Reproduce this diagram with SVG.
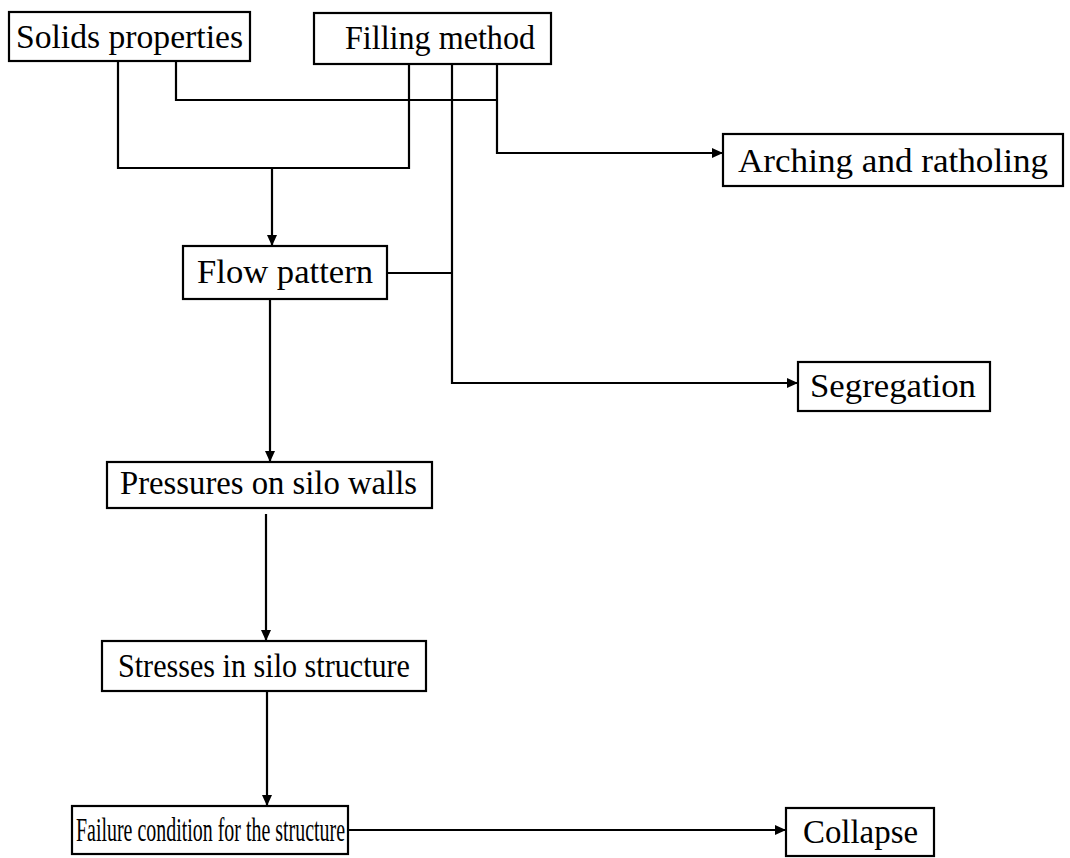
<svg xmlns="http://www.w3.org/2000/svg" width="1070" height="858" viewBox="0 0 1070 858">
<style>
.box{fill:#fff;stroke:#000;stroke-width:2.2}
.lbl{font-family:"Liberation Serif","Times New Roman",serif;font-size:33px;fill:#000}
.c{fill:none;stroke:#000;stroke-width:2.2}
</style>
<defs>
<marker id="arr" markerUnits="userSpaceOnUse" markerWidth="12" markerHeight="10" refX="11" refY="5" orient="auto">
<path d="M0,0 L11,5 L0,10 z" fill="#000"/>
</marker>
</defs>
<rect width="1070" height="858" fill="#fff"/>
<g id="connectors">
<path class="c" d="M118,61 V168 H409 V64"/>
<path class="c" d="M272,168 V246" marker-end="url(#arr)"/>
<path class="c" d="M176,61 V100 H497"/>
<path class="c" d="M497,64 V153 H723" marker-end="url(#arr)"/>
<path class="c" d="M452,64 V383 H798" marker-end="url(#arr)"/>
<path class="c" d="M387,273 H452"/>
<path class="c" d="M270,299 V462" marker-end="url(#arr)"/>
<path class="c" d="M266,514 V641" marker-end="url(#arr)"/>
<path class="c" d="M267,691 V806" marker-end="url(#arr)"/>
<path class="c" d="M348,830 H786" marker-end="url(#arr)"/>
</g>
<g id="solids"><rect class="box" x="9" y="12" width="241" height="49"/><text class="lbl" x="16" y="48" textLength="227" lengthAdjust="spacingAndGlyphs">Solids properties</text></g>
<g id="filling"><rect class="box" x="314" y="13" width="237" height="51"/><text class="lbl" x="345" y="49" textLength="190" lengthAdjust="spacingAndGlyphs">Filling method</text></g>
<g id="arching"><rect class="box" x="723" y="134" width="340" height="52"/><text class="lbl" x="738" y="172" textLength="310" lengthAdjust="spacingAndGlyphs">Arching and ratholing</text></g>
<g id="flow"><rect class="box" x="183" y="246" width="204" height="53"/><text class="lbl" x="197" y="283" textLength="176" lengthAdjust="spacingAndGlyphs">Flow pattern</text></g>
<g id="segregation"><rect class="box" x="798" y="362" width="192" height="49"/><text class="lbl" x="810" y="397" textLength="166" lengthAdjust="spacingAndGlyphs">Segregation</text></g>
<g id="pressures"><rect class="box" x="107" y="462" width="325" height="46"/><text class="lbl" x="120" y="494" textLength="297" lengthAdjust="spacingAndGlyphs">Pressures on silo walls</text></g>
<g id="stresses"><rect class="box" x="102" y="641" width="324" height="50"/><text class="lbl" x="118" y="677" textLength="292" lengthAdjust="spacingAndGlyphs">Stresses in silo structure</text></g>
<g id="failure"><rect class="box" x="72" y="806" width="276" height="48"/><text class="lbl" x="76" y="841" textLength="269" lengthAdjust="spacingAndGlyphs">Failure condition for the structure</text></g>
<g id="collapse"><rect class="box" x="786" y="808" width="148" height="48"/><text class="lbl" x="803" y="843" textLength="115" lengthAdjust="spacingAndGlyphs">Collapse</text></g>
</svg>
